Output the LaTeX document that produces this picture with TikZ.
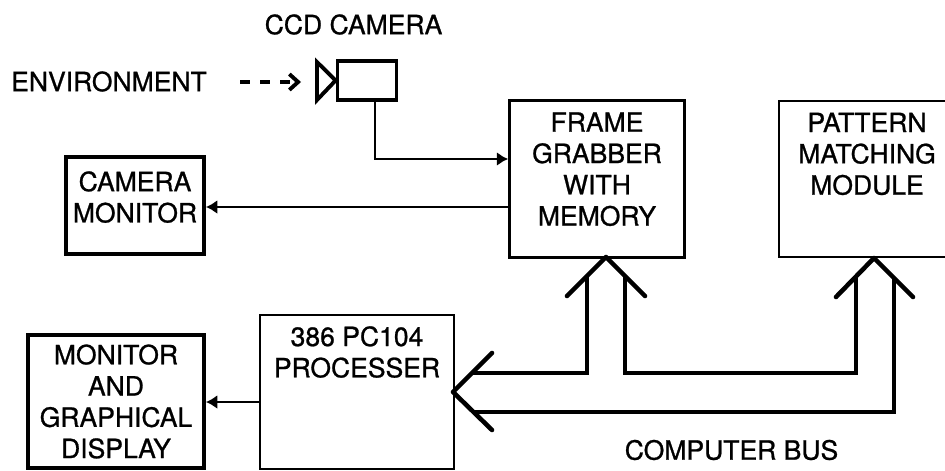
\documentclass[tikz,border=0pt]{standalone}
\usepackage{fontspec}
\setmainfont{TeX Gyre Heros}[FakeBold=0.9]
\usetikzlibrary{arrows.meta}
\tikzset{
	thickbox/.style={draw,line width=2.2pt,align=center,inner sep=0pt,font=\fontsize{15.1}{17.8}\selectfont},
	thinbox/.style={draw,line width=1.5pt,align=center,inner sep=0pt,font=\fontsize{15.1}{17.8}\selectfont},
	plaintext/.style={inner sep=0pt,font=\fontsize{15.1}{18}\selectfont},
	feed/.style={line width=1.6pt,-{Latex[length=6.5pt,width=8pt]}},
	busline/.style={line width=1.9pt},
	buswing/.style={line width=2.6pt,line cap=round,line join=round}
}
\begin{document}
\begin{tikzpicture}[x=0.02cm,y=-0.02cm]
	\useasboundingbox (0,0) rectangle (945,470);
	\node [plaintext] (ccdtext) at (353.5,24.5) {CCD CAMERA};
	\node [plaintext] (envtext) at (109,81.5) {ENVIRONMENT};
	\node [thickbox,minimum width=1.18cm,minimum height=0.78cm] (ccd) at (367,80.5) {};
	\node [thickbox,minimum width=2.76cm,minimum height=1.94cm] (cammon) at (135,205.5) {CAMERA\\MONITOR\\[-0.28cm]\mbox{}};
	\node [thickbox,minimum width=3.52cm,minimum height=2.66cm] (mondisp) at (116,401.5) {MONITOR\\AND\\GRAPHICAL\\DISPLAY};
	\node [thinbox,minimum width=3.5cm,minimum height=3.14cm] (frame) at (597,179) {FRAME\\GRABBER\\WITH\\MEMORY\\[-6.4pt]\mbox{}};
	\node [thinbox,minimum width=3.52cm,minimum height=3.12cm] (pattern) at (867,179) {PATTERN\\MATCHING\\MODULE\\[11pt]\mbox{}};
	\node [thinbox,minimum width=3.88cm,minimum height=3.08cm] (proc) at (357,392) {386 PC104\\PROCESSER\\[28pt]\mbox{}};
	\node [plaintext] (bustext) at (731.5,450) {COMPUTER BUS};
	\coordinate (tipframe) at (606,257);
	\coordinate (tippattern) at (874,258);
	\coordinate (tipproc) at (453,392);
	\draw[line width=2.2pt,line join=miter] (ccd.west) -- (317,62) -- (317,100) -- cycle;
	\draw[line width=2.2pt,dash pattern=on 5.7pt off 5.7pt,-{Straight Barb[length=5pt,width=9pt]}] (240,82) -- (301,82);
	\draw[feed] (ccd.south -| 375,0) |- (frame.west |- 0,159);
	\draw[feed] (frame.west |- 0,207) -- (cammon.east |- 0,207);
	\draw[feed] (proc.west |- 0,402) -- (mondisp.east |- 0,402);
	% bus lines
	\draw[busline] (473,373) -- (587,373) -- (587,277);
	\draw[busline] (625,277) -- (625,373) -- (856,373) -- (856,277);
	\draw[busline] (473,412) -- (894,412) -- (894,277);
	\draw[buswing] (567,296) -- (tipframe) -- (645,296);
	\draw[buswing] (836,297) -- (tippattern) -- (913,297);
	\draw[buswing] (492,353) -- (tipproc) -- (492,430);
\end{tikzpicture}
\end{document}
